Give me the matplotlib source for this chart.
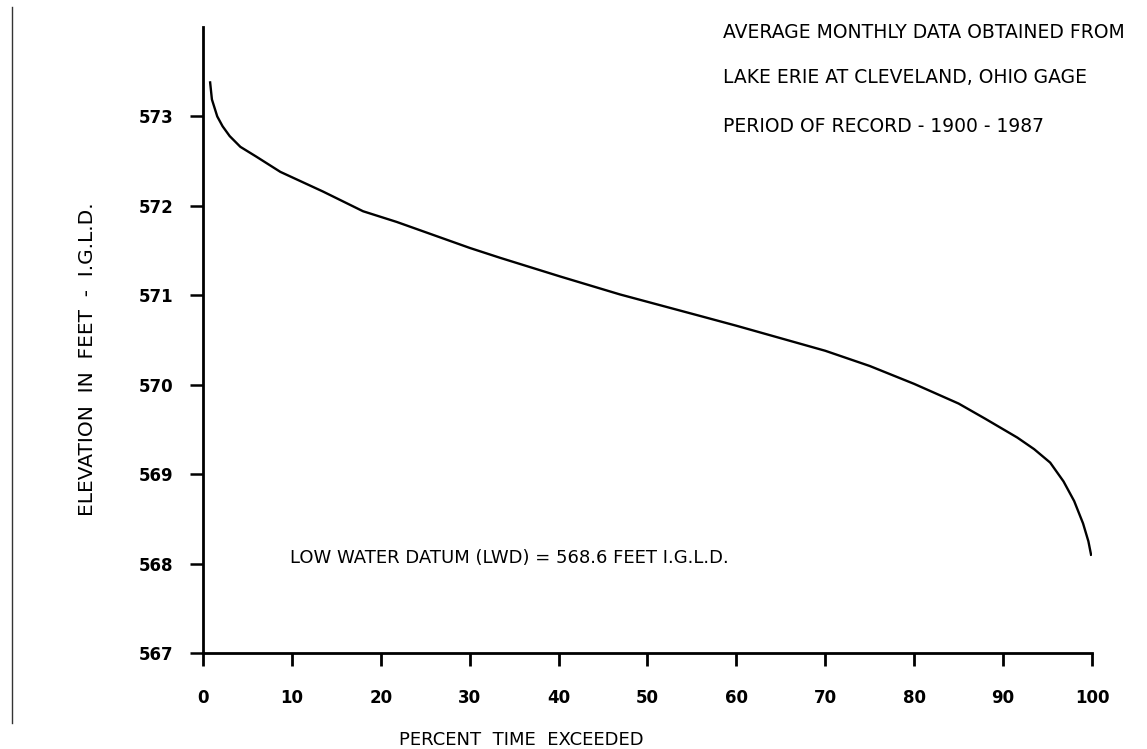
import numpy as np
import matplotlib
matplotlib.use("Agg")
import matplotlib.pyplot as plt
from matplotlib.lines import Line2D

# duration curve
pct = [0.8, 1.0, 1.6, 2.2, 3.0, 4.2, 6.0, 8.7, 13.5, 18.0, 21.8, 30.0, 33.4,
       40.2, 46.9, 55.9, 60.0, 65.0, 70.0, 75.0, 80.0, 85.0, 88.0, 91.6, 93.5,
       95.3, 96.8, 98.0, 99.0, 99.6, 99.9]
elev = [573.38, 573.19, 573.0, 572.89, 572.78, 572.66, 572.55, 572.38, 572.16,
        571.94, 571.82, 571.53, 571.42, 571.21, 571.01, 570.77, 570.66, 570.52,
        570.38, 570.21, 570.01, 569.79, 569.62, 569.41, 569.28, 569.13, 568.92,
        568.70, 568.45, 568.25, 568.10]

xticks = [0, 10, 20, 30, 40, 50, 60, 70, 80, 90, 100]
yticks = [567, 568, 569, 570, 571, 572, 573]

notes = ["AVERAGE MONTHLY DATA OBTAINED FROM",
         "LAKE ERIE AT CLEVELAND, OHIO GAGE",
         "PERIOD OF RECORD - 1900 - 1987"]
lwd_note = "LOW WATER DATUM (LWD) = 568.6 FEET I.G.L.D."

plt.rcParams['font.family'] = ['DejaVu Sans']

fig = plt.figure(figsize=(11.47, 7.49), dpi=100)
ax = fig.add_axes([0.177, 0.128, 0.775, 0.836])

ax.plot(pct, elev, color='black', lw=1.7)

ax.set_xlim(0, 100)
ax.set_ylim(567, 574)
ax.set_xticks(xticks)
ax.set_yticks(yticks)
ax.set_xticklabels([str(t) for t in xticks], fontsize=12, fontweight='bold')
ax.set_yticklabels([str(t) for t in yticks], fontsize=12, fontweight='bold')
ax.tick_params(axis='x', direction='out', length=9, width=2, pad=17)
ax.tick_params(axis='y', direction='out', length=9.5, width=1.8, pad=12)

for s in ['top', 'right']:
    ax.spines[s].set_visible(False)
for s in ['left', 'bottom']:
    ax.spines[s].set_linewidth(2)

ax.set_ylabel("ELEVATION  IN  FEET  -  I.G.L.D.", fontsize=14.5)
ax.yaxis.set_label_coords(-0.119, 0.47)
ax.set_xlabel("PERCENT  TIME  EXCEEDED", fontsize=13)
ax.xaxis.set_label_coords(0.358, -0.124)

ys = [573.94, 573.44, 572.89]
for t, yy in zip(notes, ys):
    ax.text(58.5, yy, t, fontsize=13.5, va='center', ha='left')
ax.text(9.8, 568.06, lwd_note, fontsize=13, va='center', ha='left')

fig.add_artist(Line2D([0.0105, 0.0105], [0.035, 0.99], color='#333333', lw=1))

fig.savefig("out.png", dpi=100, facecolor='white')
